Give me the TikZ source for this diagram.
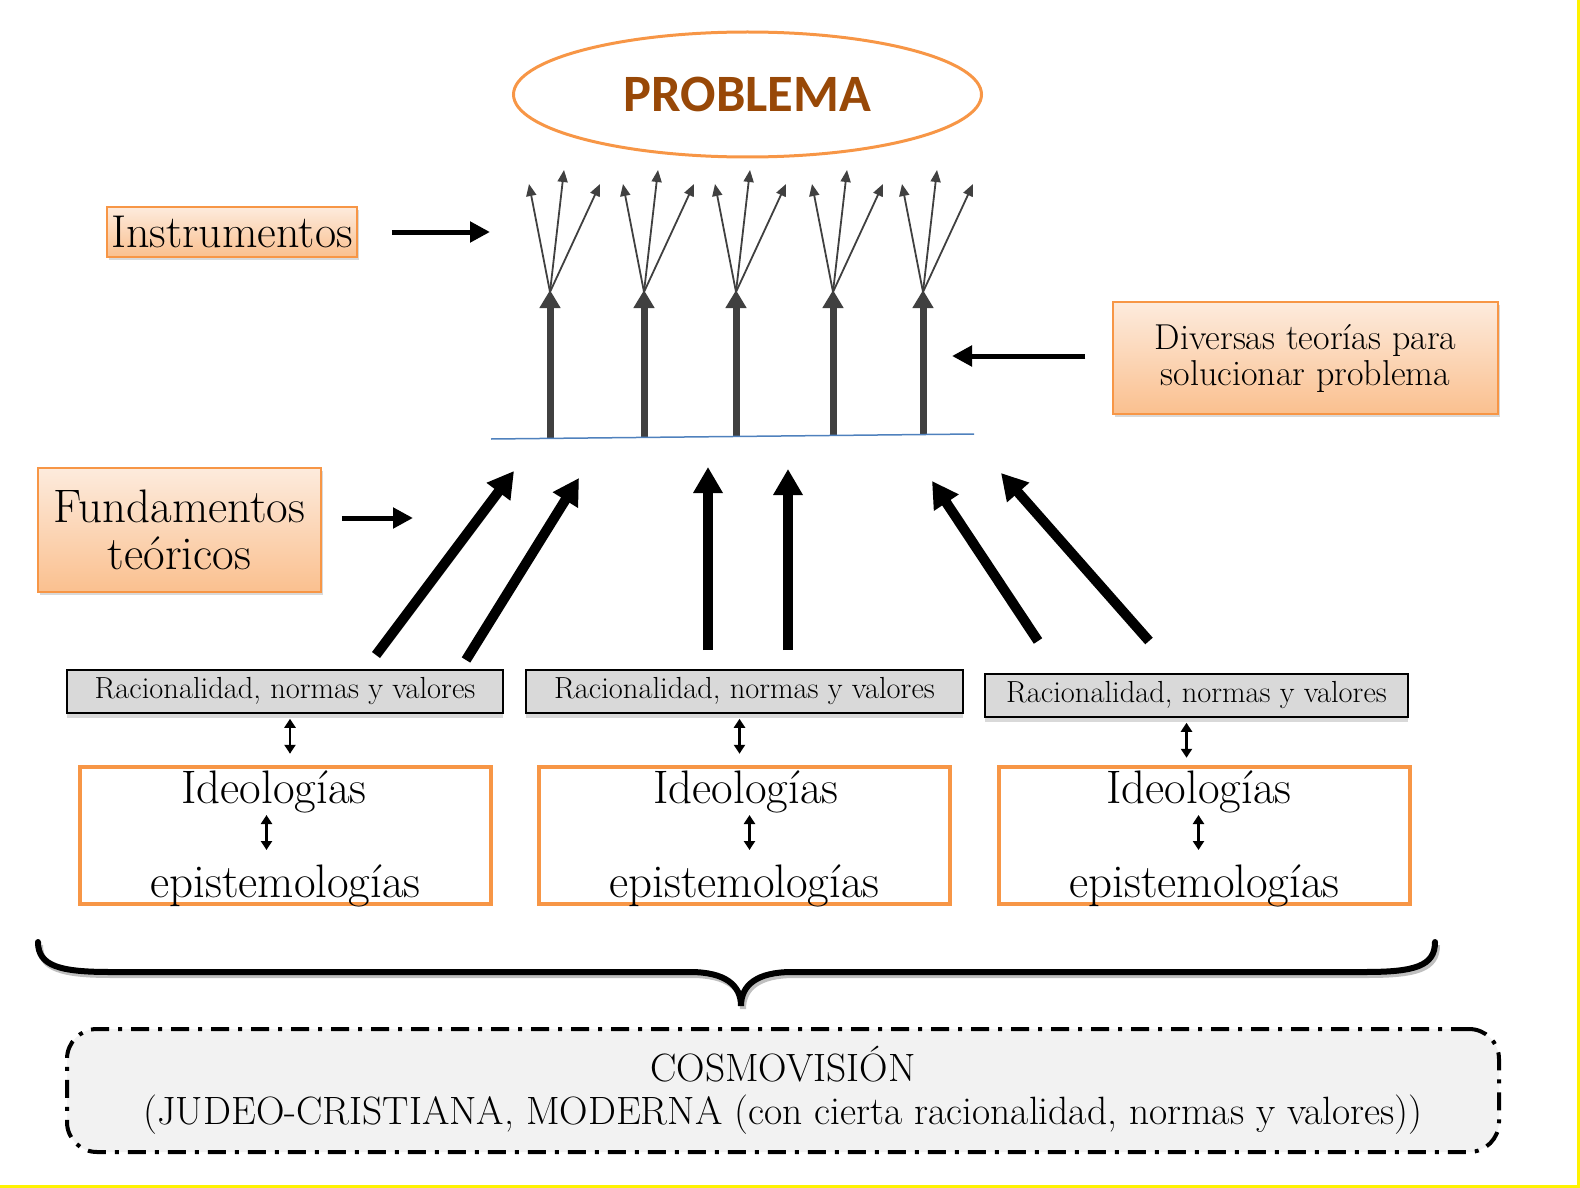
\documentclass[tikz,border=0pt]{standalone}
\usepackage{fontspec}
\usepackage{tikz}
\usetikzlibrary{arrows.meta,shapes.geometric,shadows,calc,positioning}
\newfontfamily\calibrifont{Carlito}

\begin{document}
\begin{tikzpicture}[x=1pt,y=-1pt,line cap=butt]
    % Colors
    \definecolor{boxorange}{HTML}{F79646}
    \definecolor{peachtop}{HTML}{FDEBDD}
    \definecolor{peachbottom}{HTML}{FAC08F}
    \definecolor{normgray}{HTML}{D9D9D9}
    \definecolor{stemgray}{HTML}{404040}
    \definecolor{baseblue}{HTML}{4F81BD}
    \definecolor{problembrown}{HTML}{984807}
    \definecolor{cosmogray}{HTML}{F2F2F2}

    % Styles
    \tikzstyle{problem ellipse}=[ellipse,draw=boxorange,line width=3,
      minimum width=468,minimum height=125,inner sep=0,
      font=\calibrifont\bfseries\fontsize{52.5}{60}\selectfont,text=problembrown]
    \tikzstyle{orange box}=[draw=boxorange,line width=1.5,top color=peachtop,
      bottom color=peachbottom,inner sep=0,align=center,
      drop shadow={shadow xshift=2pt,shadow yshift=-3pt,opacity=0.3}]
    \tikzstyle{norm box}=[draw=black,line width=1.5,fill=normgray,
      minimum height=43,inner sep=0,font=\fontsize{30.5}{34}\selectfont,
      drop shadow={shadow xshift=0pt,shadow yshift=-5pt,opacity=0.3}]
    \tikzstyle{ideo box}=[draw=boxorange,line width=4,fill=white,
      minimum width=411,minimum height=137,inner sep=0]
    \tikzstyle{ideo text}=[anchor=base,inner sep=0,font=\fontsize{47}{52}\selectfont]
    \tikzstyle{cosmo box}=[draw=black,fill=cosmogray,line width=4,rounded corners=30,
      dash pattern=on 18pt off 9pt on 4pt off 9pt,minimum width=1432,
      minimum height=123,inner sep=0,align=center,
      font=\fontsize{39.5}{43}\selectfont]
    \tikzstyle{fat arrow}=[line width=5,-{Triangle[length=20pt,width=20pt]}]
    \tikzstyle{big arrow}=[line width=10,-{Triangle[length=26pt,width=28pt]}]
    \tikzstyle{tree stem}=[stemgray,line width=7,-{Triangle[length=18pt,width=20pt]}]
    \tikzstyle{tree twig}=[stemgray,line width=1.8,-{Triangle[length=12pt,width=10pt]}]
    \tikzstyle{both arrow}=[line width=2.5,
      {Triangle[length=9pt,width=11pt]}-{Triangle[length=9pt,width=11pt]}]

    \useasboundingbox (0,0) rectangle (1580,1188);

    % The graphic
    \node[problem ellipse] (problema) at (747.5,94.5) {PROBLEMA};

    \node[orange box,minimum width=250,minimum height=50,
      font=\fontsize{46}{50}\selectfont] (instr) at (232,232) {Instrumentos};
    \node[orange box,minimum width=283,minimum height=124,
      font=\fontsize{47}{47}\selectfont] (fund) at (179.5,530) {Fundamentos\\teóricos};
    \node[orange box,minimum width=385,minimum height=112,
      font=\fontsize{36}{36}\selectfont] (div) at (1305.5,358)
      {Diversas teorías para\\solucionar problema};

    \coordinate (instr tip) at (490,232);
    \coordinate (fund tip) at (413,518);
    \coordinate (div tip) at (952,356);
    \draw[fat arrow] ([xshift=34pt]instr.east) -- (instr tip);
    \draw[fat arrow] ([xshift=20pt,yshift=12pt]fund.east) -- (fund tip);
    \draw[fat arrow] ([xshift=-27pt,yshift=2pt]div.west) -- (div tip);

    % tree of solutions
    \coordinate (base left) at (491,439);
    \coordinate (base right) at (974,434);
    \foreach \x/\y in {550/438,644/437,736/437,833/436,923/435} {
      \draw[tree stem] (\x,\y) -- (\x,290);
      \foreach \dx/\ty in {-21/184,14/170,50/184}
        \draw[tree twig] (\x,292) -- ({\x+\dx},\ty);
    }
    \draw[baseblue,line width=1.5] (base left) -- (base right);

    % rationality boxes
    \node[norm box,minimum width=436] (norm1) at (285,691.5) {Racionalidad, normas y valores};
    \node[norm box,minimum width=437] (norm2) at (744.5,691.5) {Racionalidad, normas y valores};
    \node[norm box,minimum width=423] (norm3) at (1196.5,695.5) {Racionalidad, normas y valores};

    \foreach \a/\b/\c/\d in {376/655/514/471,466/660/579/478,708/650/708/467,
                             788/650/788/469,1038/641/932/481,1149/641/1001/473}
      \draw[big arrow] (\a,\b) -- (\c,\d);

    % ideology boxes
    \foreach \i/\cx/\adx/\tdx/\ndx in {1/285.5/-19/-11.5/5,2/744.5/5/1.5/-5,3/1204.5/-6/-5.5/-10} {
      \node[ideo box] (ideo\i) at (\cx,835.5) {};
      \node[ideo text] (ideo\i top) at ({\cx+\tdx},803) {Ideologías};
      \node[ideo text] (ideo\i bot) at (\cx,897) {epistemologías};
      \draw[both arrow] ($(ideo\i.north)+(\adx,50)$) -- ++(0,35);
      \draw[both arrow] ($(norm\i.south)+(\ndx,5)$) -- ++(0,35);
    }

    % brace
    \draw[line width=6,line cap=round,
      preaction={draw=black!25,line width=6,transform canvas={xshift=2pt,yshift=-3pt}}]
      (38,942) .. controls (38,966) and (60,972) .. (110,972) -- (690,972)
      .. controls (725,972) and (741,985) .. (741,1006)
      .. controls (741,985) and (757,972) .. (792,972) -- (1365,972)
      .. controls (1415,972) and (1435,966) .. (1435,942);

    \node[cosmo box] (cosmo) at (783,1090.5)
      {COSMOVISIÓN\\(JUDEO-CRISTIANA, MODERNA (con cierta racionalidad, normas y valores))};

    % frame edges
    \draw[yellow,line width=3] (1578.5,0) -- (1578.5,1186.5) -- (0,1186.5);
\end{tikzpicture}
\end{document}
